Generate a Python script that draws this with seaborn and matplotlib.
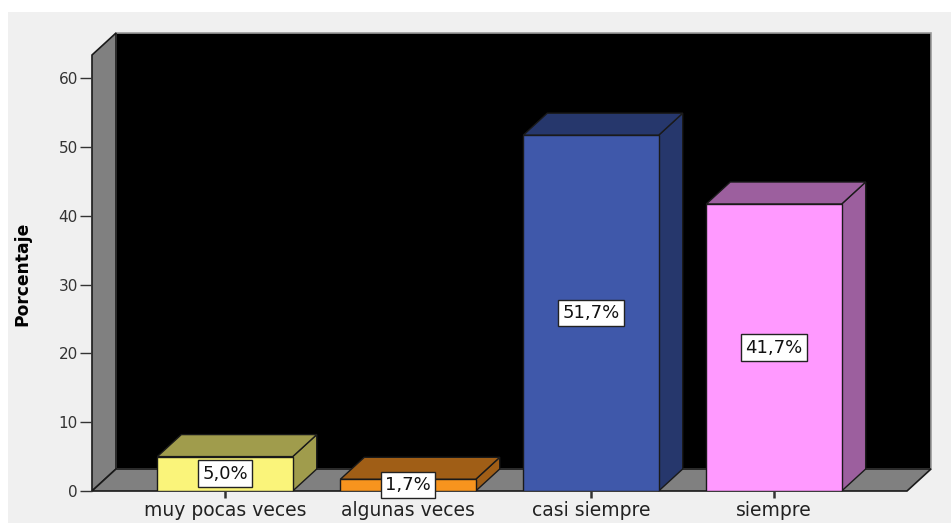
import matplotlib
matplotlib.use("Agg")
import matplotlib.pyplot as plt
import seaborn as sns
import pandas as pd
from matplotlib.patches import Polygon, Rectangle

# Response categories and their percentages
categories = ["muy pocas veces", "algunas veces", "casi siempre", "siempre"]
percentages = [5.0, 1.7, 51.7, 41.7]
value_labels = ["5,0%", "1,7%", "51,7%", "41,7%"]
y_ticks = [0, 10, 20, 30, 40, 50, 60]

# Front face colours and the darker shade used on tops and sides
front_colors = ["#FAF47A", "#F7941E", "#3F58AA", "#FF99FF"]
shade_colors = ["#A09C4C", "#A05E16", "#26376C", "#9C5F9E"]

W, H, DPI = 951, 523, 100
fig = plt.figure(figsize=(W / DPI, H / DPI), dpi=DPI, facecolor="white")

# light grey panel behind the chart
fig.patches.append(Rectangle((8 / W, 0), 1 - 8 / W, (H - 12) / H,
                             transform=fig.transFigure, facecolor="#F0F0F0",
                             edgecolor="none", zorder=-10))

# front plane of the 3-D box, in pixels
left, right, bottom_px, top_px = 92, 907, 491, 55
ax = fig.add_axes([left / W, (H - bottom_px) / H,
                   (right - left) / W, (bottom_px - top_px) / H])

XMIN, XMAX = -0.727, 3.727
YMAX = 63.35
# depth of the box (24 px right, 22 px up) expressed in data units
DX = 24 * (XMAX - XMIN) / (right - left)
DY = 22 * YMAX / (bottom_px - top_px)

df = pd.DataFrame({"categoria": categories, "porcentaje": percentages})
sns.barplot(data=df, x="categoria", y="porcentaje", hue="categoria",
            palette=front_colors, saturation=1, width=0.74,
            edgecolor="#1a1a1a", linewidth=1, legend=False, ax=ax, zorder=3)

# back wall, left wall and floor
ax.add_patch(Rectangle((XMIN + DX, DY), XMAX - XMIN, YMAX, facecolor="black",
                       edgecolor="#9a9a9a", linewidth=1.2, zorder=0.1, clip_on=False))
ax.add_patch(Polygon([(XMIN, 0), (XMIN, YMAX), (XMIN + DX, YMAX + DY), (XMIN + DX, DY)],
                     closed=True, facecolor="#808080", edgecolor="#1a1a1a",
                     linewidth=1.2, zorder=0.2, clip_on=False))
ax.add_patch(Polygon([(XMIN, 0), (XMAX, 0), (XMAX + DX, DY), (XMIN + DX, DY)],
                     closed=True, facecolor="#808080", edgecolor="#1a1a1a",
                     linewidth=1.2, zorder=0.3, clip_on=False))

# top and side faces for every bar, plus the value label
for bar in list(ax.patches):
    if bar.get_zorder() != 3:
        continue
    x0, w, h = bar.get_x(), bar.get_width(), bar.get_height()
    i = int(round(x0 + w / 2))
    shade = shade_colors[i]
    ax.add_patch(Polygon([(x0 + w, 0), (x0 + w + DX, DY), (x0 + w + DX, h + DY), (x0 + w, h)],
                         closed=True, facecolor=shade, edgecolor="#1a1a1a",
                         linewidth=1, zorder=2.5, clip_on=False))
    ax.add_patch(Polygon([(x0, h), (x0 + DX, h + DY), (x0 + w + DX, h + DY), (x0 + w, h)],
                         closed=True, facecolor=shade, edgecolor="#1a1a1a",
                         linewidth=1, zorder=2.5, clip_on=False))
    ax.text(x0 + w / 2, h / 2, value_labels[i], ha="center", va="center",
            fontsize=13, color="#111111", zorder=5,
            bbox=dict(boxstyle="square,pad=0.24", facecolor="white",
                      edgecolor="#222222", linewidth=1))

ax.set_xlim(XMIN, XMAX)
ax.set_ylim(0, YMAX)
ax.set_yticks(y_ticks)
ax.set_xlabel("")
ax.set_ylabel("Porcentaje", family=["DejaVu Sans"],
              fontweight="bold", fontsize=12.3, color="black", va="center")
ax.yaxis.set_label_coords((22 - left) / (right - left), (bottom_px - 274) / (bottom_px - top_px))
ax.patch.set_visible(False)
for s in ax.spines.values():
    s.set_visible(False)
ax.tick_params(axis="y", length=8.6, width=1, color="#333333", pad=1.5,
               labelsize=11, labelcolor="#333333")
ax.tick_params(axis="x", length=5, width=1.8, color="#333333", pad=2,
               labelsize=13.5, labelcolor="#222222")

fig.savefig("out.png", dpi=DPI, facecolor=fig.get_facecolor())
